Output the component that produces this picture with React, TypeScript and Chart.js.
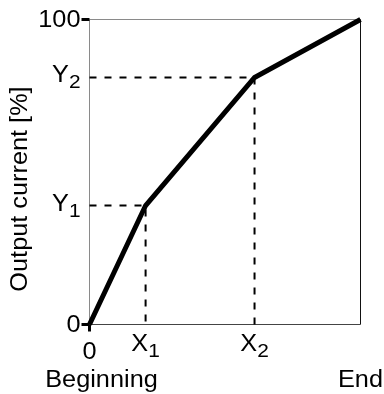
import React, { useEffect, useRef } from 'react';
import { Chart, registerables } from 'chart.js';

Chart.register(...registerables);

// ---- data ----
const curveX = [0, 20.7, 60.9, 100];
const curveY = [0, 39, 81, 100];
const xTickValues = [0, 20.7, 60.9];
const xTickLabels = ['0', 'X', 'X'];
const xTickSubs = ['', '1', '2'];
const yTickValues = [0, 39, 81, 100];
const yTickLabels = ['0', 'Y', 'Y', '100'];
const yTickSubs = ['', '1', '2', ''];
const xEndValues = [0, 100];
const xEndLabels = ['Beginning', 'End'];
const yTitle = 'Output current [%]';

const FONT_FAMILY = '"Liberation Sans", Arial, sans-serif';
const MAIN = 23;
const SUB = 19;
const STRETCH = 1.1;

function textWidth(ctx: CanvasRenderingContext2D, t: string, size: number) {
  ctx.font = `${size}px ${FONT_FAMILY}`;
  return ctx.measureText(t).width * STRETCH;
}

function drawStretched(ctx: CanvasRenderingContext2D, t: string, x: number, y: number, size: number) {
  ctx.save();
  ctx.font = `${size}px ${FONT_FAMILY}`;
  ctx.textAlign = 'left';
  ctx.textBaseline = 'alphabetic';
  ctx.translate(x, y);
  ctx.scale(STRETCH, 1);
  ctx.fillText(t, 0, 0);
  ctx.restore();
}

function drawLabel(
  ctx: CanvasRenderingContext2D,
  base: string,
  sub: string,
  x: number,
  baseline: number,
  align: 'right' | 'center'
) {
  const wb = textWidth(ctx, base, MAIN);
  const ws = sub ? textWidth(ctx, sub, SUB) : 0;
  const total = wb + ws;
  const x0 = align === 'right' ? x - total : x - total / 2;
  drawStretched(ctx, base, x0, baseline, MAIN);
  if (sub) drawStretched(ctx, sub, x0 + wb, baseline + 6, SUB);
}

const overlay = {
  id: 'overlay',
  beforeDatasetsDraw(chart: any) {
    const { ctx, chartArea } = chart;
    const { left, right, top, bottom } = chartArea;
    ctx.save();
    ctx.lineWidth = 1;
    ctx.strokeStyle = '#8a8a8a';
    ctx.beginPath();
    ctx.moveTo(left, bottom);
    ctx.lineTo(left, top);
    ctx.lineTo(right, top);
    ctx.stroke();
    ctx.strokeStyle = '#111';
    ctx.beginPath();
    ctx.moveTo(right, top);
    ctx.lineTo(right, bottom);
    ctx.stroke();
    ctx.strokeStyle = '#444';
    ctx.beginPath();
    ctx.moveTo(left, bottom);
    ctx.lineTo(right, bottom);
    ctx.stroke();
    ctx.restore();
  },
  afterDatasetsDraw(chart: any) {
    const { ctx, chartArea, scales } = chart;
    const xs = scales.x;
    const ys = scales.y;
    const { left, bottom } = chartArea;
    ctx.save();
    ctx.fillStyle = '#000';
    ctx.strokeStyle = '#000';
    // y ticks (0 and 100)
    ctx.lineWidth = 3;
    yTickValues.forEach((v, i) => {
      if (yTickSubs[i]) return;
      const py = ys.getPixelForValue(v);
      ctx.beginPath();
      ctx.moveTo(left - 8, py);
      ctx.lineTo(left, py);
      ctx.stroke();
    });
    // x tick at origin
    const px0 = xs.getPixelForValue(xTickValues[0]);
    ctx.beginPath();
    ctx.moveTo(px0, bottom);
    ctx.lineTo(px0, bottom + 7);
    ctx.stroke();
    // y labels
    yTickValues.forEach((v, i) => {
      const py = ys.getPixelForValue(v);
      drawLabel(ctx, yTickLabels[i], yTickSubs[i], left - 9, py + (yTickSubs[i] ? 5 : 7), 'right');
    });
    // x labels
    xTickValues.forEach((v, i) => {
      const px = xs.getPixelForValue(v);
      drawLabel(ctx, xTickLabels[i], xTickSubs[i], px, bottom + (xTickSubs[i] ? 26 : 34), 'center');
    });
    // Beginning / End
    xEndValues.forEach((v, i) => {
      const px = xs.getPixelForValue(v) + (i === 0 ? 12 : 0);
      drawLabel(ctx, xEndLabels[i], '', px, bottom + 62, 'center');
    });
    // y title
    ctx.save();
    ctx.translate(27, 189);
    ctx.rotate(-Math.PI / 2);
    const w = textWidth(ctx, yTitle, MAIN);
    drawStretched(ctx, yTitle, -w / 2, 0, MAIN);
    ctx.restore();
    ctx.restore();
  },
};

export default function App() {
  const ref = useRef<HTMLCanvasElement | null>(null);
  useEffect(() => {
    if (!ref.current) return;
    const curve = curveX.map((x, i) => ({ x, y: curveY[i] }));
    const guide1 = [
      { x: 0, y: curveY[1] },
      { x: curveX[1], y: curveY[1] },
      { x: curveX[1], y: 0 },
    ];
    const guide2 = [
      { x: 0, y: curveY[2] },
      { x: curveX[2], y: curveY[2] },
      { x: curveX[2], y: 0 },
    ];
    const chart = new Chart(ref.current, {
      type: 'line',
      data: {
        datasets: [
          {
            data: guide1,
            borderColor: '#000',
            borderWidth: 2,
            borderDash: [7, 8],
            pointRadius: 0,
            tension: 0,
            clip: false as any,
          },
          {
            data: guide2,
            borderColor: '#000',
            borderWidth: 2,
            borderDash: [7, 8],
            pointRadius: 0,
            tension: 0,
            clip: false as any,
          },
          {
            data: curve,
            borderColor: '#000',
            borderWidth: 5,
            pointRadius: 0,
            tension: 0,
            borderJoinStyle: 'miter',
            borderCapStyle: 'butt',
            clip: false as any,
          },
        ],
      },
      options: {
        animation: false,
        responsive: false,
        layout: { padding: { left: 89.5, right: 23.5, top: 19.5, bottom: 69.5 } },
        plugins: { legend: { display: false }, tooltip: { enabled: false } },
        scales: {
          x: { type: 'linear', min: 0, max: 100, display: false },
          y: { type: 'linear', min: 0, max: 100, display: false },
        },
      },
      plugins: [overlay],
    });
    return () => chart.destroy();
  }, []);
  return (
    <div style={{ position: 'absolute', left: 0, top: 0, width: 384, height: 394, background: '#fff' }}>
      <canvas ref={ref} width={384} height={394} style={{ display: 'block' }} />
    </div>
  );
}
